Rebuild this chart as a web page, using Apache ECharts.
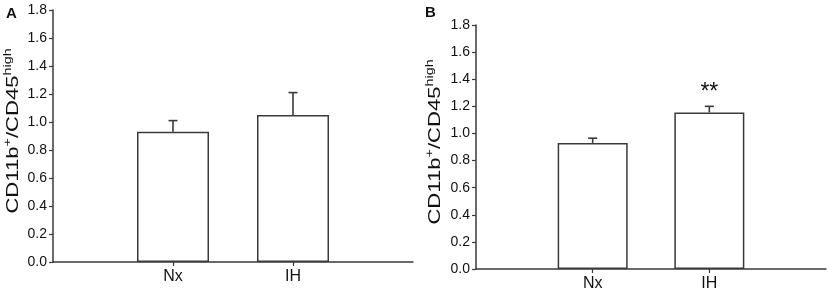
<!DOCTYPE html>
<html>
<head>
<meta charset="utf-8">
<script src="https://cdn.jsdelivr.net/npm/echarts@6/dist/echarts.min.js"></script>
<style>
  html, body { margin: 0; padding: 0; background: #fff; }
  #chart { width: 829px; height: 292px; }
</style>
</head>
<body>
<div id="chart"></div>
<script>
// 两组：常氧(Nx) 与 间歇性低氧(IH)
var groups = ['Nx', 'IH'];
// 面板 A 的均值和误差
var meansA = [0.93, 1.05];
var errA = [0.08, 0.16];
// 面板 B 的均值和误差
var meansB = [0.93, 1.155];
var errB = [0.035, 0.045];
var sigB = ['', '**'];
var yTicks = [0, 0.2, 0.4, 0.6, 0.8, 1.0, 1.2, 1.4, 1.6, 1.8];

var lineColor = '#3a3a3a';
var textColor = '#111';
var font = 'Liberation Sans, Arial, sans-serif';

// 类目轴两边各留一个空位，柱子就落在 1/3 和 2/3 处
var cats = [''].concat(groups, ['']);
function pad(arr) {
  return ['-'].concat(arr, ['-']);
}
function errData(means, errs) {
  return means.map(function (m, i) {
    return [i + 1, m, m + errs[i]];
  });
}

function makeX(gridIndex) {
  return {
    gridIndex: gridIndex,
    type: 'category',
    data: cats,
    boundaryGap: false,
    axisLine: { lineStyle: { color: lineColor, width: 1.5 } },
    axisTick: {
      length: 4,
      lineStyle: { color: lineColor, width: 1.2 },
      interval: function (i) { return i === 1 || i === 2; }
    },
    axisLabel: {
      interval: 0,
      margin: 7,
      color: textColor,
      fontSize: 16,
      fontFamily: font
    },
    splitLine: { show: false }
  };
}

function makeY(gridIndex) {
  return {
    gridIndex: gridIndex,
    type: 'value',
    min: yTicks[0],
    max: yTicks[yTicks.length - 1],
    interval: 0.2,
    axisLine: { show: true, lineStyle: { color: lineColor, width: 1.5 } },
    axisTick: { show: true, length: 4, lineStyle: { color: lineColor, width: 1.2 } },
    axisLabel: {
      margin: 6,
      color: textColor,
      fontSize: 14,
      fontFamily: font,
      formatter: function (v) { return v.toFixed(1); }
    },
    splitLine: { show: false }
  };
}

// 纵轴标题，原图的字被拉长了，所以用 graphic 文本加 scaleX
function yTitle(x, y) {
  return {
    type: 'text',
    x: x,
    y: y,
    rotation: Math.PI / 2,
    scaleX: 1.3,
    silent: true,
    style: {
      text: '{m|CD11b}{s|+}{m|/CD45}{s|high}',
      textAlign: 'center',
      textVerticalAlign: 'middle',
      rich: {
        m: { fontSize: 17, fontFamily: font, fill: textColor, verticalAlign: 'bottom', lineHeight: 20 },
        s: { fontSize: 11, fontFamily: font, fill: textColor, verticalAlign: 'top', lineHeight: 20 }
      }
    }
  };
}

function makeBar(idx, means, width) {
  return {
    type: 'bar',
    xAxisIndex: idx,
    yAxisIndex: idx,
    data: pad(means),
    barWidth: width,
    itemStyle: { color: '#fff', borderColor: lineColor, borderWidth: 1.5 },
    silent: true,
    z: 2
  };
}

// 误差线 (只画向上的一半)，再加上显著性星号
function makeErr(idx, means, errs, sig) {
  return {
    type: 'custom',
    xAxisIndex: idx,
    yAxisIndex: idx,
    data: errData(means, errs),
    z: 3,
    silent: true,
    renderItem: function (params, api) {
      var lo = api.coord([api.value(0), api.value(1)]);
      var hi = api.coord([api.value(0), api.value(2)]);
      var cap = 4.5;
      var style = { stroke: lineColor, lineWidth: 1.6 };
      var children = [
        { type: 'line', shape: { x1: lo[0], y1: lo[1], x2: hi[0], y2: hi[1] }, style: style },
        { type: 'line', shape: { x1: hi[0] - cap, y1: hi[1], x2: hi[0] + cap, y2: hi[1] }, style: style }
      ];
      var s = sig ? sig[params.dataIndex] : '';
      if (s) {
        children.push({
          type: 'text',
          style: {
            text: s,
            x: hi[0],
            y: hi[1] - 2,
            textAlign: 'center',
            textVerticalAlign: 'bottom',
            fontSize: 23,
            fontFamily: font,
            fill: textColor
          }
        });
      }
      return { type: 'group', children: children };
    }
  };
}

var chart = echarts.init(document.getElementById('chart'));
var option = {
  animation: false,
  backgroundColor: '#fff',
  title: [
    { text: 'A', left: 1, top: 1, textStyle: { fontSize: 15, fontWeight: 'bold', fontFamily: font, color: textColor } },
    { text: 'B', left: 420, top: 0, textStyle: { fontSize: 15, fontWeight: 'bold', fontFamily: font, color: textColor } }
  ],
  grid: [
    { left: 53, top: 10, width: 360, height: 252 },
    { left: 476, top: 25, width: 351, height: 244 }
  ],
  xAxis: [makeX(0), makeX(1)],
  yAxis: [makeY(0), makeY(1)],
  graphic: [yTitle(12, 131), yTitle(434, 142)],
  series: [
    makeBar(0, meansA, 72),
    makeBar(1, meansB, 70),
    makeErr(0, meansA, errA, null),
    makeErr(1, meansB, errB, sigB)
  ]
};
chart.setOption(option);
</script>
</body>
</html>
